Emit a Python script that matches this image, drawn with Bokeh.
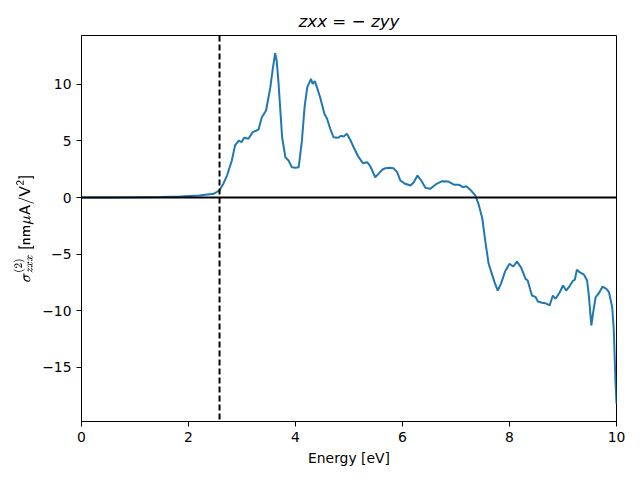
from bokeh.plotting import figure
from bokeh.models import Range1d, FixedTicker, Span, CustomJSTickFormatter, TeX
from bokeh.embed import file_html
from bokeh.resources import INLINE

energy = [0.0, 0.5, 1.0, 1.5, 1.85, 2.2, 2.47, 2.575, 2.65, 2.72,
          2.81, 2.87, 2.94, 2.99, 3.04, 3.12, 3.2, 3.31, 3.37, 3.45,
          3.53, 3.58, 3.62, 3.65, 3.68, 3.75, 3.81, 3.87, 3.93, 4.0,
          4.06, 4.12, 4.17, 4.22, 4.29, 4.32, 4.36, 4.4, 4.46, 4.54,
          4.59, 4.65, 4.71, 4.79, 4.85, 4.9, 4.96, 5.03, 5.1, 5.18,
          5.26, 5.34, 5.4, 5.49, 5.55, 5.62, 5.68, 5.76, 5.83, 5.9,
          5.96, 6.05, 6.15, 6.21, 6.28, 6.35, 6.43, 6.52, 6.62, 6.74,
          6.86, 6.97, 7.06, 7.13, 7.19, 7.27, 7.36, 7.42, 7.49, 7.55,
          7.61, 7.66, 7.72, 7.78, 7.84, 7.92, 8.0, 8.07, 8.14, 8.22,
          8.3, 8.34, 8.42, 8.49, 8.53, 8.61, 8.67, 8.75, 8.81, 8.86,
          8.94, 9.0, 9.06, 9.13, 9.19, 9.22, 9.26, 9.31, 9.39, 9.45,
          9.48, 9.53, 9.56, 9.61, 9.67, 9.74, 9.81, 9.86, 9.92, 9.95,
          9.98, 10.0]

sigma = [0.0, 0.01, 0.02, 0.05, 0.1, 0.18, 0.33, 0.62, 1.2, 1.94,
         3.27, 4.6, 5.03, 4.88, 5.27, 5.18, 5.77, 6.0, 7.09, 7.68,
         9.74, 11.5, 12.74, 12.0, 10.3, 5.32, 3.56, 3.27, 2.68, 2.62,
         2.68, 5.03, 8.0, 9.74, 10.47, 10.03, 10.27, 9.74, 8.85, 7.39,
         6.95, 6.06, 5.32, 5.27, 5.44, 5.38, 5.62, 5.03, 4.3, 3.56,
         3.03, 3.12, 2.74, 1.79, 2.09, 2.45, 2.59, 2.62, 2.59, 2.24,
         1.5, 1.21, 1.06, 1.35, 1.94, 1.5, 0.85, 0.77, 1.15, 1.44,
         1.41, 1.12, 1.12, 0.91, 1.0, 0.68, 0.18, -0.56, -1.8, -3.94,
         -5.85, -6.59, -7.47, -8.21, -7.62, -6.5, -5.85, -6.09, -5.65, -6.21,
         -7.18, -7.33, -8.65, -8.8, -9.18, -9.29, -9.33, -9.53, -8.65, -8.94,
         -8.36, -7.77, -8.21, -7.77, -7.33, -7.27, -6.38, -6.59, -6.8, -7.33,
         -8.5, -11.3, -10.26, -8.8, -8.45, -7.86, -8.06, -8.36, -9.68, -11.74,
         -16.15, -18.2]

gap_energy = 2.58
x_ticks = [0, 2, 4, 6, 8, 10]
y_ticks = [-15, -10, -5, 0, 5, 10]

FONT = "DejaVu Sans"

p = figure(width=640, height=480, output_backend="svg", toolbar_location=None,
           x_range=Range1d(0, 10), y_range=Range1d(-19.77, 14.3),
           min_border_left=81, min_border_right=24, min_border_top=35, min_border_bottom=59)
p.title.text = "zxx = \u2212 zyy"
p.title.align = "center"
p.title.text_font = FONT
p.title.text_font_style = "italic"
p.title.text_font_size = "16.7px"
p.title.text_color = "black"

p.grid.visible = False
p.outline_line_color = "black"
p.outline_line_width = 1
p.background_fill_color = "white"
p.border_fill_color = "white"

p.line(energy, sigma, line_color="#1f77b4", line_width=2)
p.add_layout(Span(location=0, dimension="width", line_color="black", line_width=2))
p.add_layout(Span(location=gap_energy, dimension="height", line_color="black",
                  line_width=2, line_dash="6 3"))

fmt = CustomJSTickFormatter(code="return tick < 0 ? '\u2212' + Math.abs(tick) : tick.toString();")
for ax in (p.xaxis[0], p.yaxis[0]):
    ax.formatter = fmt
    ax.major_label_text_font = FONT
    ax.major_label_text_font_size = "13.9px"
    ax.major_label_text_color = "black"
    ax.axis_label_text_font = FONT
    ax.axis_label_text_font_size = "13.9px"
    ax.axis_label_text_font_style = "normal"
    ax.axis_label_text_color = "black"
    ax.major_tick_out = 5
    ax.major_tick_in = 0
    ax.minor_tick_out = 0
    ax.minor_tick_in = 0
    ax.axis_line_color = "black"
    ax.major_tick_line_color = "black"

p.xaxis[0].ticker = FixedTicker(ticks=x_ticks)
p.yaxis[0].ticker = FixedTicker(ticks=y_ticks)
p.xaxis[0].axis_label = "Energy [eV]"
p.yaxis[0].axis_label = TeX(text=r"\sigma^{(2)}_{zxx}\ \mathsf{[nm}\mu\mathsf{A/V^2]}")
p.yaxis[0].axis_label_text_font_size = "12.5px"

open("out.html", "w").write(file_html(p, INLINE))
